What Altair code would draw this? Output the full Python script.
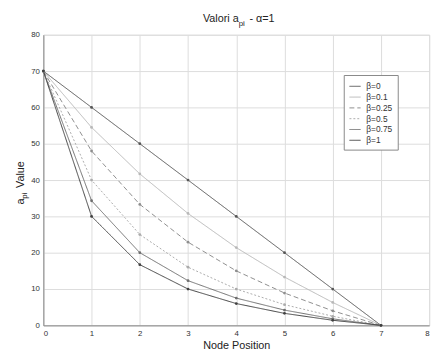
import altair as alt
import pandas as pd

nodes = [0, 1, 2, 3, 4, 5, 6, 7]
betas = ["β=0", "β=0.1", "β=0.25", "β=0.5", "β=0.75", "β=1"]
v_b0 = [70, 60, 50, 40, 30, 20, 10, 0]
v_b01 = [70, 54.5, 41.7, 30.8, 21.4, 13.3, 6.3, 0]
v_b025 = [70, 48, 33.3, 22.9, 15, 8.9, 4, 0]
v_b05 = [70, 40, 25, 16, 10, 5.7, 2.5, 0]
v_b075 = [70, 34.3, 20, 12.3, 7.5, 4.2, 1.8, 0]
v_b1 = [70, 30, 16.7, 10, 6, 3.3, 1.4, 0]
series = [v_b0, v_b01, v_b025, v_b05, v_b075, v_b1]

colors = ["#555555", "#b8b8b8", "#8e8e8e", "#ababab", "#6e6e6e", "#404040"]
dashes = [[1, 0], [1, 0], [5, 3], [2, 2], [1, 0], [1, 0]]

rows = []
for b, vals in zip(betas, series):
    for n, v in zip(nodes, vals):
        rows.append({"node": n, "beta": b, "value": v})
df = pd.DataFrame(rows)

W, H = 393, 296
FONT = "Liberation Sans"

leg = alt.Legend(
    title=None, orient="none", legendX=306, legendY=41,
    symbolType="stroke", symbolSize=130, symbolStrokeWidth=1,
    labelFontSize=8.5, labelFont=FONT, labelColor="#333",
    rowPadding=0, padding=5, strokeColor="#888", fillColor="white",
    labelOffset=5,
)

xax = alt.Axis(values=nodes + [8], grid=True, gridColor="#dcdcdc", ticks=False,
               labelFontSize=8, labelFont=FONT, labelColor="#333", labelPadding=4,
               domainColor="#888", title="Node Position", titleFont=FONT,
               titleFontSize=11, titleFontWeight="normal", titleColor="#222",
               titlePadding=3)
yax = alt.Axis(values=list(range(0, 81, 10)), grid=True, gridColor="#dcdcdc", ticks=False,
               labelFontSize=8, labelFont=FONT, labelColor="#333", labelPadding=4,
               domainColor="#888", title=None)

base = alt.Chart(df).encode(
    x=alt.X("node:Q", scale=alt.Scale(domain=[0, 8], nice=False), axis=xax),
    y=alt.Y("value:Q", scale=alt.Scale(domain=[0, 80], nice=False), axis=yax),
)

lines = base.mark_line(strokeWidth=1).encode(
    color=alt.Color("beta:N", scale=alt.Scale(domain=betas, range=colors), sort=betas, legend=leg),
    strokeDash=alt.StrokeDash("beta:N", scale=alt.Scale(domain=betas, range=dashes), sort=betas, legend=leg),
)
points = base.mark_point(filled=True, size=8, opacity=1).encode(
    color=alt.Color("beta:N", scale=alt.Scale(domain=betas, range=colors), sort=betas, legend=None),
)

def txt(t, x, y, size=11, angle=0, align="left", baseline="alphabetic"):
    return alt.Chart(pd.DataFrame({"t": [t]})).mark_text(
        font=FONT, fontSize=size, angle=angle, align=align, baseline=baseline, color="#222"
    ).encode(text="t:N", x=alt.value(x), y=alt.value(y))

titles = (
    txt("Valori a", 199, -13, align="right")
    + txt("pi", 199, -9, size=8)
    + txt("- α=1", 210, -13)
    + txt("a", -20, 173, angle=270)
    + txt("pi", -17, 167, size=8, angle=270)
    + txt("Value", -20, 156, angle=270)
)

chart = alt.layer(lines, points, titles).properties(
    width=W, height=H,
    autosize=alt.AutoSizeParams(type="none"),
    padding={"left": 36, "top": 24, "right": 9, "bottom": 30},
).configure_view(stroke="#888", strokeWidth=1).configure(background="white")

chart.save("out.html", embed_options={"renderer": "svg", "actions": False})
